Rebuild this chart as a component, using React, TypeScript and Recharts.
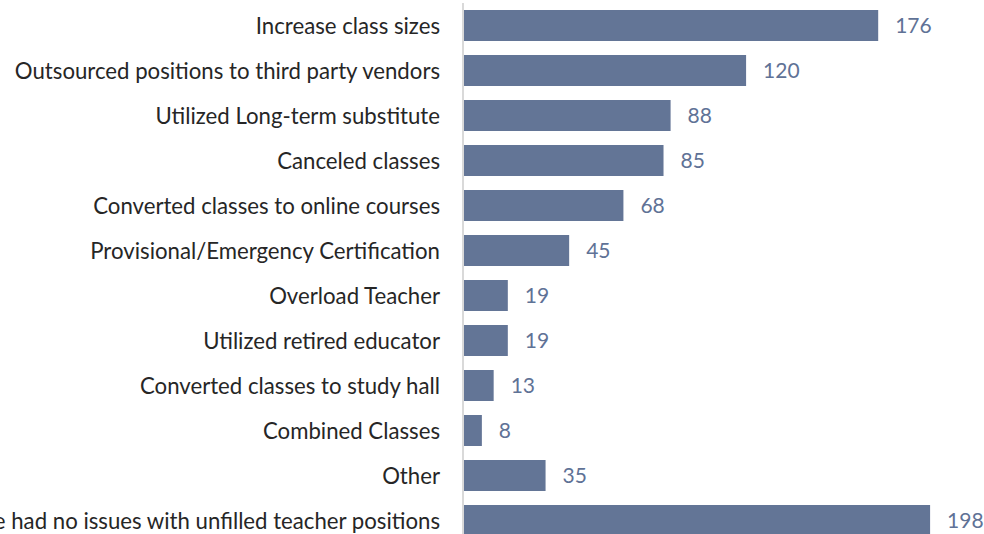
import React from "react";
import { BarChart, Bar, XAxis, YAxis, LabelList } from "recharts";

const categories = [
  "Increase class sizes",
  "Outsourced positions to third party vendors",
  "Utilized Long-term substitute",
  "Canceled classes",
  "Converted classes to online courses",
  "Provisional/Emergency Certification",
  "Overload Teacher",
  "Utilized retired educator",
  "Converted classes to study hall",
  "Combined Classes",
  "Other",
  "We had no issues with unfilled teacher positions",
];

const counts = [176, 120, 88, 85, 68, 45, 19, 19, 13, 8, 35, 198];

const data = categories.map((name, i) => ({ name, value: counts[i] }));

const FONT = "Lato, 'Noto Sans', sans-serif";

const CategoryTick = (props: any) => {
  const { x, y, payload } = props;
  return (
    <text
      x={x}
      y={y}
      textAnchor="end"
      dominantBaseline="central"
      fill="#262626"
      fontSize={22.2}
      fontFamily={FONT}
    >
      {payload.value}
    </text>
  );
};

export default function App() {
  return (
    <div style={{ position: "absolute", left: 0, top: 0 }}>
      <BarChart
        width={984}
        height={545}
        data={data}
        layout="vertical"
        margin={{ top: 3, right: 2, bottom: 2, left: 0 }}
      >
        <XAxis type="number" domain={[0, 220]} hide />
        <YAxis
          type="category"
          dataKey="name"
          width={463}
          tickLine={false}
          tickSize={0}
          tickMargin={23}
          axisLine={{ stroke: "#d9d9d9", strokeWidth: 2 }}
          tick={<CategoryTick />}
          interval={0}
        />
        <Bar dataKey="value" fill="#637596" barSize={31} isAnimationActive={false}>
          <LabelList
            dataKey="value"
            position="right"
            offset={17}
            fill="#5f7296"
            fontSize={21}
            fontFamily={FONT}
          />
        </Bar>
      </BarChart>
    </div>
  );
}
